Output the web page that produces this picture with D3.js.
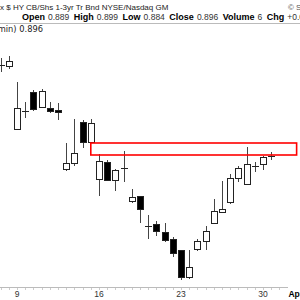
<!DOCTYPE html>
<html>
<head>
<meta charset="utf-8">
<script src="https://cdn.jsdelivr.net/npm/d3@7"></script>
<style>
  body { margin: 0; background: #fff; }
  svg { display: block; font-family: "Liberation Sans", Arial, sans-serif; }
</style>
</head>
<body>
<svg id="chart" width="300" height="300"></svg>
<script>
// 60 min bars, two per day
const opens  = [0.9051,0.9050,0.8987,0.9005,0.9024,0.9009,0.9008,0.9006,0.8947,0.8953,0.8994,0.8974,0.8937,0.8954,0.8936,0.8948,0.8915,0.8920,0.8890,0.8892,0.8884,0.8877,0.8866,0.8839,0.8867,0.8875,0.8893,0.8904,0.8914,0.8938,0.8932,0.8950,0.8952,0.8960];
const highs  = [0.9058,0.9060,0.9034,0.9014,0.9026,0.9027,0.9014,0.9013,0.8973,0.8997,0.8996,0.8997,0.8962,0.8956,0.8947,0.8965,0.8927,0.8920,0.8901,0.8895,0.8893,0.8879,0.8866,0.8866,0.8877,0.8890,0.8917,0.8935,0.8942,0.8950,0.8969,0.8954,0.8960,0.8964];
const lows   = [0.9044,0.9047,0.8987,0.8998,0.9005,0.9009,0.9003,0.8996,0.8945,0.8950,0.8968,0.8974,0.8920,0.8935,0.8925,0.8934,0.8913,0.8893,0.8877,0.8880,0.8874,0.8859,0.8836,0.8837,0.8865,0.8866,0.8892,0.8904,0.8912,0.8934,0.8932,0.8944,0.8946,0.8956];
const closes = [0.9051,0.9055,0.9008,0.9005,0.9007,0.9025,0.9005,0.9004,0.8953,0.8963,0.8974,0.8993,0.8955,0.8936,0.8946,0.8948,0.8919,0.8907,0.8890,0.8885,0.8876,0.8863,0.8839,0.8849,0.8875,0.8885,0.8905,0.8907,0.8938,0.8948,0.8952,0.8950,0.8959,0.8960];

const tickIdx  = [2, 12, 22, 32, 36];
const tickText = ["9", "16", "23", "30", "Apr"];

// resistance zone drawn in red
const zoneFrom = 11, zoneTo = 36.1;
const zoneTop = 0.8973, zoneBottom = 0.8961;

const titleText = "x $ HY CB/Shs 1-3yr Tr Bnd NYSE/Nasdaq GM";
const quoteLabels = ["Open", "High", "Low", "Close", "Volume", "Chg"];
const quoteValues = ["0.889", "0.899", "0.884", "0.896", "6", "+0.006"];
const overlayText = "min) 0.896";

const svg = d3.select("#chart");
const width = 300, height = 300;

const x = d3.scaleLinear().domain([0, 36]).range([0.6, 295.8]);
const y = d3.scaleLinear().domain([0.8816, 0.9116]).range([300, 0]);

const bars = opens.map((o, i) => ({i, o, h: highs[i], l: lows[i], c: closes[i]}));

// header
svg.append("text").attr("x", 0).attr("y", 10)
  .attr("font-size", 8).attr("fill", "#222").text(titleText);
svg.append("text").attr("x", 288).attr("y", 10)
  .attr("font-size", 8).attr("fill", "#555").text("© StockCharts.com");

const q = svg.append("text").attr("x", 22).attr("y", 20).attr("font-size", 9);
quoteLabels.forEach((lab, k) => {
  q.append("tspan").attr("font-weight", "bold").attr("fill", "#000")
    .attr("dx", k === 0 ? 0 : 4.5).text(lab);
  q.append("tspan").attr("fill", "#333").attr("font-size", 8.5).attr("dx", 3).text(quoteValues[k]);
});

svg.append("line").attr("x1", 0).attr("x2", width).attr("y1", 23.5).attr("y2", 23.5)
  .attr("stroke", "#bbb");

svg.append("text").attr("x", 43).attr("y", 32).attr("text-anchor", "end")
  .attr("font-size", 8.3).attr("font-family", "DejaVu Sans, sans-serif")
  .attr("fill", "#222").text(overlayText);

// candles
const g = svg.append("g").attr("shape-rendering", "crispEdges");

g.selectAll("line.wick")
  .data(bars)
  .join("line")
  .attr("class", "wick")
  .attr("x1", d => Math.round(x(d.i)) + 0.5)
  .attr("x2", d => Math.round(x(d.i)) + 0.5)
  .attr("y1", d => y(d.h))
  .attr("y2", d => y(d.l))
  .attr("stroke", "#444");

g.selectAll("rect.body")
  .data(bars)
  .join("rect")
  .attr("class", "body")
  .attr("x", d => Math.round(x(d.i)) - 2.5)
  .attr("width", 6)
  .attr("y", d => y(Math.max(d.o, d.c)))
  .attr("height", d => Math.max(0.5, y(Math.min(d.o, d.c)) - y(Math.max(d.o, d.c))))
  .attr("fill", d => d.c > d.o ? "#fff" : "#000")
  .attr("stroke", "#222");

// zone
svg.append("rect")
  .attr("x", x(zoneFrom))
  .attr("y", y(zoneTop))
  .attr("width", x(zoneTo) - x(zoneFrom))
  .attr("height", y(zoneBottom) - y(zoneTop))
  .attr("fill", "none")
  .attr("stroke", "#f00")
  .attr("stroke-width", 1.6);

// x axis
const axisY = 287;
svg.append("line").attr("x1", 0).attr("x2", 288).attr("y1", axisY + 0.5).attr("y2", axisY + 0.5)
  .attr("stroke", "#bbb");

svg.append("g").selectAll("line")
  .data(d3.range(0, 35))
  .join("line")
  .attr("x1", d => Math.round(x(d)) + 0.5)
  .attr("x2", d => Math.round(x(d)) + 0.5)
  .attr("y1", axisY + 1)
  .attr("y2", axisY + 3)
  .attr("stroke", "#ccc");

svg.append("g").selectAll("text")
  .data(tickIdx)
  .join("text")
  .attr("x", d => x(d))
  .attr("y", 297)
  .attr("text-anchor", "middle")
  .attr("font-size", 8.5)
  .attr("font-weight", (d, k) => tickText[k] === "Apr" ? "bold" : "normal")
  .attr("fill", (d, k) => tickText[k] === "Apr" ? "#000" : "#333")
  .text((d, k) => tickText[k]);
</script>
</body>
</html>
